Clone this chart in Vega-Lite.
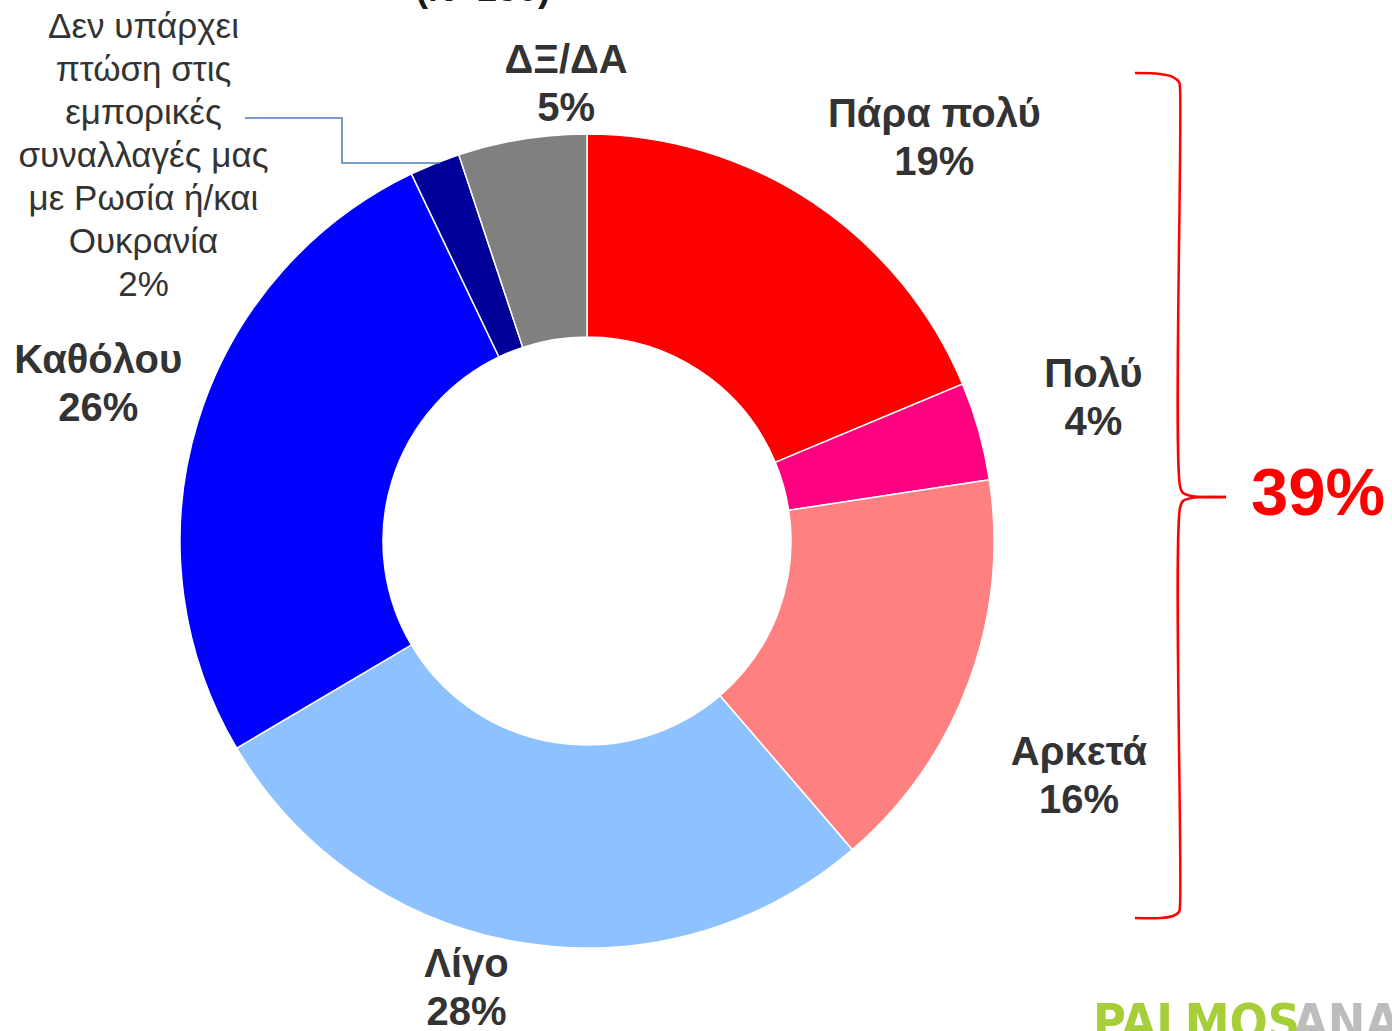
{
  "$schema": "https://vega.github.io/schema/vega-lite/v6.json",
  "autosize": "none",
  "width": 1174,
  "height": 1082,
  "padding": {"left": 0, "top": 0, "right": 218, "bottom": 0},
  "background": "white",
  "config": {"view": {"stroke": null}},
  "datasets": {
    "slices": [
      {"idx": 1, "cat": "Πάρα πολύ", "value": 18.7, "label": "Πάρα πολύ|19%"},
      {"idx": 2, "cat": "Πολύ", "value": 3.9, "label": "Πολύ|4%"},
      {"idx": 3, "cat": "Αρκετά", "value": 16.1, "label": "Αρκετά|16%"},
      {"idx": 4, "cat": "Λίγο", "value": 27.8, "label": "Λίγο|28%"},
      {"idx": 5, "cat": "Καθόλου", "value": 26.4, "label": "Καθόλου|26%"},
      {"idx": 6, "cat": "Δεν υπάρχει πτώση στις εμπορικές συναλλαγές μας με Ρωσία ή/και Ουκρανία", "value": 2.0, "label": "Δεν υπάρχει|πτώση στις|εμπορικές|συναλλαγές μας|με Ρωσία ή/και|Ουκρανία|2%"},
      {"idx": 7, "cat": "ΔΞ/ΔΑ", "value": 5.1, "label": "ΔΞ/ΔΑ|5%"}
    ],
    "bracket": [
      {"part": "u", "i": 1, "x": 134.64, "y": 114.99},
      {"part": "u", "i": 2, "x": 140.79, "y": 114.74},
      {"part": "u", "i": 3, "x": 143.98, "y": 114.0},
      {"part": "u", "i": 4, "x": 145.45, "y": 112.78},
      {"part": "u", "i": 5, "x": 145.7, "y": 111.3},
      {"part": "u", "i": 6, "x": 145.7, "y": 13.51},
      {"part": "u", "i": 7, "x": 146.44, "y": 11.79},
      {"part": "u", "i": 8, "x": 149.39, "y": 10.93},
      {"part": "u", "i": 9, "x": 157.0, "y": 10.81},
      {"part": "l", "i": 1, "x": 157.0, "y": 10.81},
      {"part": "l", "i": 2, "x": 149.39, "y": 10.69},
      {"part": "l", "i": 3, "x": 146.44, "y": 9.83},
      {"part": "l", "i": 4, "x": 145.7, "y": 8.11},
      {"part": "l", "i": 5, "x": 145.7, "y": -89.68},
      {"part": "l", "i": 6, "x": 145.45, "y": -91.15},
      {"part": "l", "i": 7, "x": 143.98, "y": -92.14},
      {"part": "l", "i": 8, "x": 140.79, "y": -92.63},
      {"part": "l", "i": 9, "x": 134.64, "y": -92.63}
    ],
    "leader": [
      {"i": 1, "x": -84.03, "y": 103.93},
      {"i": 2, "x": -60.2, "y": 103.93},
      {"i": 3, "x": -60.2, "y": 92.87},
      {"i": 4, "x": -36.12, "y": 92.87}
    ]
  },
  "layer": [
    {
      "data": {"name": "slices"},
      "mark": {"type": "arc", "outerRadius": 407, "innerRadius": 204, "stroke": "#ffffff", "strokeWidth": 1.5},
      "encoding": {
        "theta": {"field": "value", "type": "quantitative", "stack": true},
        "order": {"field": "idx", "type": "quantitative"},
        "color": {
          "field": "cat", "type": "nominal", "legend": null,
          "scale": {
            "domain": ["Πάρα πολύ", "Πολύ", "Αρκετά", "Λίγο", "Καθόλου", "Δεν υπάρχει πτώση στις εμπορικές συναλλαγές μας με Ρωσία ή/και Ουκρανία", "ΔΞ/ΔΑ"],
            "range": ["#FF0000", "#FF0080", "#FF8080", "#8EC1FF", "#0000FF", "#000099", "#808080"]
          }
        }
      }
    },
    {
      "data": {"name": "slices"},
      "mark": {"type": "text", "radius": 531, "dx": 53, "dy": 16, "lineBreak": "|", "font": "Liberation Sans", "fontSize": 40, "fontWeight": "bold", "lineHeight": 48, "fill": "#333333", "align": "center", "baseline": "middle"},
      "encoding": {
        "theta": {"field": "value", "type": "quantitative", "stack": true},
        "order": {"field": "idx", "type": "quantitative"},
        "text": {"condition": {"test": "datum.idx === 1", "field": "label"}, "value": ""}
      }
    },
    {
      "data": {"name": "slices"},
      "mark": {"type": "text", "radius": 526, "dx": 0, "dy": -24, "lineBreak": "|", "font": "Liberation Sans", "fontSize": 40, "fontWeight": "bold", "lineHeight": 48, "fill": "#333333", "align": "center", "baseline": "middle"},
      "encoding": {
        "theta": {"field": "value", "type": "quantitative", "stack": true},
        "order": {"field": "idx", "type": "quantitative"},
        "text": {"condition": {"test": "datum.idx === 2", "field": "label"}, "value": ""}
      }
    },
    {
      "data": {"name": "slices"},
      "mark": {"type": "text", "radius": 546, "dx": -20, "dy": 22, "lineBreak": "|", "font": "Liberation Sans", "fontSize": 40, "fontWeight": "bold", "lineHeight": 48, "fill": "#333333", "align": "center", "baseline": "middle"},
      "encoding": {
        "theta": {"field": "value", "type": "quantitative", "stack": true},
        "order": {"field": "idx", "type": "quantitative"},
        "text": {"condition": {"test": "datum.idx === 3", "field": "label"}, "value": ""}
      }
    },
    {
      "data": {"name": "slices"},
      "mark": {"type": "text", "radius": 464, "dx": -45, "dy": -34, "lineBreak": "|", "font": "Liberation Sans", "fontSize": 40, "fontWeight": "bold", "lineHeight": 48, "fill": "#333333", "align": "center", "baseline": "middle"},
      "encoding": {
        "theta": {"field": "value", "type": "quantitative", "stack": true},
        "order": {"field": "idx", "type": "quantitative"},
        "text": {"condition": {"test": "datum.idx === 4", "field": "label"}, "value": ""}
      }
    },
    {
      "data": {"name": "slices"},
      "mark": {"type": "text", "radius": 513, "dx": 2, "dy": -31, "lineBreak": "|", "font": "Liberation Sans", "fontSize": 40, "fontWeight": "bold", "lineHeight": 48, "fill": "#333333", "align": "center", "baseline": "middle"},
      "encoding": {
        "theta": {"field": "value", "type": "quantitative", "stack": true},
        "order": {"field": "idx", "type": "quantitative"},
        "text": {"condition": {"test": "datum.idx === 5", "field": "label"}, "value": ""}
      }
    },
    {
      "data": {"name": "slices"},
      "mark": {"type": "text", "radius": 587, "dx": -224, "dy": 30, "lineBreak": "|", "font": "Liberation Sans", "fontSize": 35, "fontWeight": "normal", "lineHeight": 43, "fill": "#333333", "align": "center", "baseline": "middle"},
      "encoding": {
        "theta": {"field": "value", "type": "quantitative", "stack": true},
        "order": {"field": "idx", "type": "quantitative"},
        "text": {"condition": {"test": "datum.idx === 6", "field": "label"}, "value": ""}
      }
    },
    {
      "data": {"name": "slices"},
      "mark": {"type": "text", "radius": 457, "dx": 52, "dy": -29, "lineBreak": "|", "font": "Liberation Sans", "fontSize": 40, "fontWeight": "bold", "lineHeight": 48, "fill": "#333333", "align": "center", "baseline": "middle"},
      "encoding": {
        "theta": {"field": "value", "type": "quantitative", "stack": true},
        "order": {"field": "idx", "type": "quantitative"},
        "text": {"condition": {"test": "datum.idx === 7", "field": "label"}, "value": ""}
      }
    },
    {
      "data": {"name": "bracket"},
      "mark": {"type": "line", "interpolate": "catmull-rom", "stroke": "#FF0000", "strokeWidth": 2.5},
      "encoding": {
        "x": {"field": "x", "type": "quantitative", "axis": null, "scale": {"domain": [-144.23, 144.23], "nice": false, "zero": false}},
        "y": {"field": "y", "type": "quantitative", "axis": null, "scale": {"domain": [-132.92, 132.92], "nice": false, "zero": false}},
        "detail": {"field": "part", "type": "nominal"},
        "order": {"field": "i", "type": "quantitative"}
      }
    },
    {
      "data": {"name": "leader"},
      "mark": {"type": "line", "stroke": "#4A7EBB", "strokeWidth": 1.5},
      "encoding": {
        "x": {"field": "x", "type": "quantitative", "axis": null, "scale": {"domain": [-144.23, 144.23], "nice": false, "zero": false}},
        "y": {"field": "y", "type": "quantitative", "axis": null, "scale": {"domain": [-132.92, 132.92], "nice": false, "zero": false}},
        "order": {"field": "i", "type": "quantitative"}
      }
    },
    {
      "data": {"values": [{"x": 179.61, "y": 11.3, "t": "39%"}]},
      "mark": {"type": "text", "font": "Liberation Sans", "fontSize": 67, "fontWeight": "bold", "fill": "#FF0000", "align": "center", "baseline": "middle"},
      "encoding": {
        "x": {"field": "x", "type": "quantitative", "axis": null, "scale": {"domain": [-144.23, 144.23], "nice": false, "zero": false}},
        "y": {"field": "y", "type": "quantitative", "axis": null, "scale": {"domain": [-132.92, 132.92], "nice": false, "zero": false}},
        "text": {"field": "t"}
      }
    },
    {
      "data": {"values": [{"x": -25.55, "y": 132.68, "t": "(Ν=150)"}]},
      "mark": {"type": "text", "font": "Liberation Sans", "fontSize": 37, "fontWeight": "bold", "fill": "#1A1A1A", "align": "center", "baseline": "alphabetic"},
      "encoding": {
        "x": {"field": "x", "type": "quantitative", "axis": null, "scale": {"domain": [-144.23, 144.23], "nice": false, "zero": false}},
        "y": {"field": "y", "type": "quantitative", "axis": null, "scale": {"domain": [-132.92, 132.92], "nice": false, "zero": false}},
        "text": {"field": "t"}
      }
    },
    {
      "data": {"values": [{"x": 124.32, "y": -122.36, "t": "PALMOS"}]},
      "mark": {"type": "text", "font": "Liberation Sans Narrow, DejaVu Sans Condensed, Liberation Sans", "fontSize": 50, "fontWeight": "bold", "fill": "#A6CE39", "align": "left", "baseline": "alphabetic"},
      "encoding": {
        "x": {"field": "x", "type": "quantitative", "axis": null, "scale": {"domain": [-144.23, 144.23], "nice": false, "zero": false}},
        "y": {"field": "y", "type": "quantitative", "axis": null, "scale": {"domain": [-132.92, 132.92], "nice": false, "zero": false}},
        "text": {"field": "t"}
      }
    },
    {
      "data": {"values": [{"x": 173.46, "y": -122.36, "t": "ANALYSIS"}]},
      "mark": {"type": "text", "font": "Liberation Sans Narrow, DejaVu Sans Condensed, Liberation Sans", "fontSize": 50, "fontWeight": "bold", "fill": "#BDBDBD", "align": "left", "baseline": "alphabetic"},
      "encoding": {
        "x": {"field": "x", "type": "quantitative", "axis": null, "scale": {"domain": [-144.23, 144.23], "nice": false, "zero": false}},
        "y": {"field": "y", "type": "quantitative", "axis": null, "scale": {"domain": [-132.92, 132.92], "nice": false, "zero": false}},
        "text": {"field": "t"}
      }
    }
  ]
}
